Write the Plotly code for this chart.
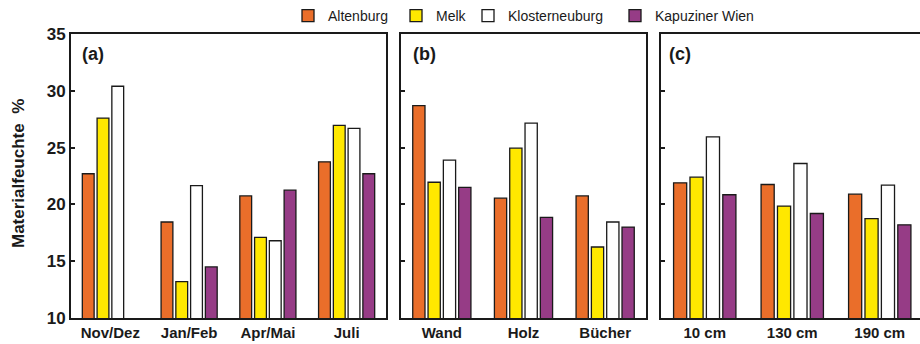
import plotly.graph_objects as go

# ---------------- data ----------------
series_names = ["Altenburg", "Melk", "Klosterneuburg", "Kapuziner Wien"]

cats_a = ["Nov/Dez", "Jan/Feb", "Apr/Mai", "Juli"]
cats_b = ["Wand", "Holz", "Bücher"]
cats_c = ["10 cm", "130 cm", "190 cm"]

altenburg_a = [22.7, 18.45, 20.75, 23.75]
melk_a = [27.6, 13.2, 17.1, 26.95]
kloster_a = [30.4, 21.65, 16.8, 26.7]
kapuziner_a = [None, 14.5, 21.25, 22.7]

altenburg_b = [28.7, 20.55, 20.75]
melk_b = [21.95, 24.95, 16.25]
kloster_b = [23.9, 27.15, 18.45]
kapuziner_b = [21.5, 18.85, 18.0]

altenburg_c = [21.9, 21.75, 20.9]
melk_c = [22.4, 19.85, 18.75]
kloster_c = [25.95, 23.6, 21.7]
kapuziner_c = [20.85, 19.2, 18.2]

y_ticks = [10, 15, 20, 25, 30, 35]
panel_labels = ["(a)", "(b)", "(c)"]
y_title = "Materialfeuchte\u00a0\u00a0%"

# ---------------- styling ----------------
colors = ["#EA6E2A", "#FFE800", "#FFFFFF", "#963C86"]
legend_ids = ["legend", "legend2", "legend3", "legend4"]
FONT = "Liberation Sans, Arial, sans-serif"

panels = [
    (cats_a, [altenburg_a, melk_a, kloster_a, kapuziner_a], "x", "y"),
    (cats_b, [altenburg_b, melk_b, kloster_b, kapuziner_b], "x2", "y2"),
    (cats_c, [altenburg_c, melk_c, kloster_c, kapuziner_c], "x3", "y3"),
]

fig = go.Figure()
for pi, (cats, vals, xa, ya) in enumerate(panels):
    for si, name in enumerate(series_names):
        fig.add_trace(go.Bar(
            x=cats, y=vals[si], name=name,
            xaxis=xa, yaxis=ya,
            marker=dict(color=colors[si], line=dict(color="#1a1a1a", width=1.3)),
            showlegend=(pi == 0), legend=legend_ids[si],
            offsetgroup=str(si),
        ))

W, H = 920, 344
ml, mr, mt, mb = 0, 0, 34, 26
doms = [(71 / W, 386 / W), (401 / W, 646 / W), (661 / W, 1.0)]
xranges = [[-0.5, 3.5], [-0.5, 2.5], [-0.5, 2.46]]

layout = dict(
    width=W, height=H,
    margin=dict(l=ml, r=mr, t=mt, b=mb, pad=0),
    paper_bgcolor="white", plot_bgcolor="white",
    barmode="group", bargap=0.25, bargroupgap=0.2,
    font=dict(family=FONT, color="#1a1a1a"),
)

for i in range(3):
    sx = "" if i == 0 else str(i + 1)
    layout["xaxis" + sx] = dict(
        domain=list(doms[i]), anchor="y" + sx, type="category",
        range=xranges[i], showgrid=False, zeroline=False,
        showline=True, linecolor="#1a1a1a", linewidth=2, mirror=True,
        ticks="", tickfont=dict(size=15, family=FONT, weight="bold", color="#1a1a1a"),
        fixedrange=True,
    )
    layout["yaxis" + sx] = dict(
        domain=[0, 1], anchor="x" + sx, range=[10, 35],
        tickvals=y_ticks, showgrid=False, zeroline=False,
        showline=True, linecolor="#1a1a1a", linewidth=2,
        mirror=(i < 2),
        ticks="inside", ticklen=4, tickwidth=2, tickcolor="#1a1a1a",
        showticklabels=(i == 0),
        tickfont=dict(size=17, family=FONT, weight="bold", color="#1a1a1a"),
        fixedrange=True,
    )

legend_x = [288, 396, 468, 615]
for li, lid in enumerate(legend_ids):
    layout[lid] = dict(
        orientation="h", x=legend_x[li] / W, y=(318 - 15.7) / 284,
        xanchor="left", yanchor="middle", bgcolor="rgba(0,0,0,0)",
        font=dict(size=14, family=FONT, color="#1a1a1a"),
    )

fig.update_layout(**layout)

# panel labels
label_x = [80 / W, 410.7 / W, 666.7 / W]
for i, t in enumerate(panel_labels):
    fig.add_annotation(
        text=t, x=label_x[i], y=(318 - 54) / 284, xref="paper", yref="paper",
        xanchor="left", yanchor="middle", showarrow=False,
        font=dict(size=18, family=FONT, weight="bold", color="#1a1a1a"),
    )

# y-axis title
fig.add_annotation(
    text=y_title, x=18 / W, y=(318 - 174) / 284, xref="paper", yref="paper",
    xanchor="center", yanchor="middle", textangle=-90, showarrow=False,
    font=dict(size=17, family=FONT, weight="bold", color="#1a1a1a"),
)

fig.write_html(
    "out.html",
    config={"displayModeBar": False},
    post_script="document.body.style.margin='0';document.body.style.overflow='hidden';",
)
